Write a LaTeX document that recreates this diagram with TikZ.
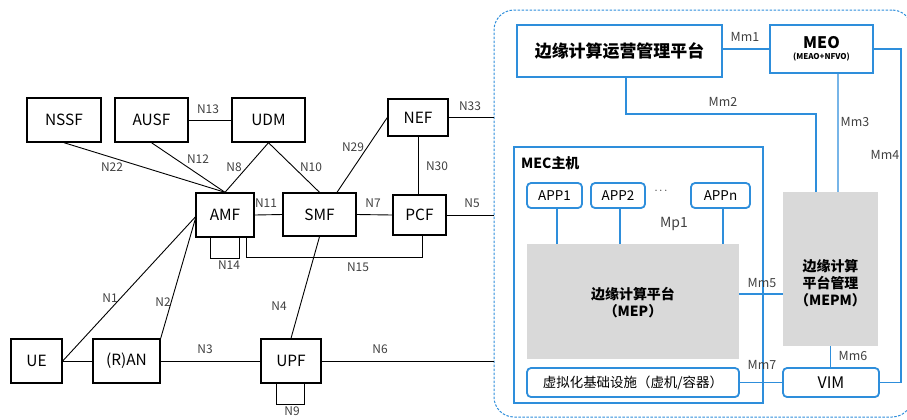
\documentclass[tikz,border=0pt]{standalone}
\usepackage{fontspec}
\setmainfont{Noto Sans CJK SC}
\usepackage{xcolor}
\usetikzlibrary{positioning}
\definecolor{mecblue}{RGB}{46,142,219}
\definecolor{mecgrey}{RGB}{217,217,217}

\begin{document}
\begin{tikzpicture}[
  x=1bp, y=-1bp,
  nf/.style={draw, line width=1.4bp, inner sep=0pt, font=\fontsize{15.5}{17}\selectfont},
  bbox/.style={draw=mecblue, line width=1.8bp, inner sep=0pt},
  rbox/.style={bbox, rounded corners=4bp, font=\fontsize{13.5}{16}\selectfont},
  gbox/.style={fill=mecgrey, inner sep=0pt},
  gtxt/.style={align=center, font=\bfseries\fontsize{14}{17}\selectfont},
  lbl/.style={font=\fontsize{12}{14}\selectfont, text=black!75, inner sep=1bp},
  mlbl/.style={lbl, font=\fontsize{12.5}{14}\selectfont},
  lnk/.style={line width=0.9bp},
  blnk/.style={draw=mecblue, line width=1.2bp}
]
\useasboundingbox (0,0) rectangle (907,419);

% MEC domain
\node[draw=mecblue, line width=1bp, dash pattern=on 2.5bp off 1.5bp,
      rounded corners=20bp, minimum width=418bp, minimum height=407bp,
      inner sep=0pt] (edge) at (703,213.5) {};

% 5G core
\node[nf, minimum width=74bp, minimum height=44bp] (NSSF) at (64,120) {NSSF};
\node[nf, minimum width=73bp, minimum height=44bp] (AUSF) at (151.5,120) {AUSF};
\node[nf, minimum width=73bp, minimum height=44bp] (UDM) at (268.5,120) {UDM};
\node[nf, minimum width=60bp, minimum height=37bp] (NEF) at (418,117.5) {NEF};
\node[nf, minimum width=58bp, minimum height=44bp] (AMF) at (225,215) {AMF};
\node[nf, minimum width=73bp, minimum height=43bp] (SMF) at (319.5,214.5) {SMF};
\node[nf, minimum width=53bp, minimum height=40bp] (PCF) at (419.5,215) {PCF};
\node[nf, minimum width=51bp, minimum height=44bp] (UE) at (36.5,361) {UE};
\node[nf, minimum width=67bp, minimum height=44bp] (RAN) at (126.5,361) {(R)AN};
\node[nf, minimum width=60bp, minimum height=44bp] (UPF) at (291,361) {UPF};

\draw[lnk] (NSSF.south) -- (AMF.north);
\draw[lnk] (AUSF.south) -- (AMF.north);
\draw[lnk] (UDM.south) -- (AMF.north);
\draw[lnk] (UDM.south) -- (SMF.north);
\draw[lnk] (AUSF.east) -- (UDM.west);
\draw[lnk] ([xshift=17.5bp]SMF.north) -- (NEF.west);
\draw[lnk] (NEF.south) -- (NEF.south |- PCF.north);
\draw[lnk] (AMF.east) -- (SMF.west);
\draw[lnk] (SMF.east) -- (PCF.west);
\draw[lnk] (PCF.east) -- (PCF.east -| edge.west);
\draw[lnk] (NEF.east) -- (NEF.east -| edge.west);
\draw[lnk] (UPF.east) -- (UPF.east -| edge.west);
\draw[lnk] ([xshift=-15bp]AMF.south) -- ++(0,21) -| ([xshift=14bp]AMF.south);
\draw[lnk] ([xshift=21bp]AMF.south) -- ++(0,20) -| ([xshift=2.5bp]PCF.south);
\draw[lnk] ([xshift=-15bp]UPF.south) -- ++(0,21) -| ([xshift=13bp]UPF.south);
\draw[lnk] (UE.east) -- (RAN.west);
\draw[lnk] (RAN.east) -- (UPF.west);
\draw[lnk] (UE.east) -- ([yshift=-2bp]AMF.west);
\draw[lnk] (RAN.north east) -- ([yshift=-4bp]AMF.west);
\draw[lnk] (SMF.south) -- (UPF.north);

\node[lbl] (lN22) at (112,167) {N22};
\node[lbl] (lN12) at (198,159) {N12};
\node[lbl] (lN8) at (234,167) {N8};
\node[lbl] (lN10) at (311,167) {N10};
\node[lbl] (lN13) at (208,109) {N13};
\node[lbl] (lN29) at (353,147) {N29};
\node[lbl] (lN30) at (437,166) {N30};
\node[lbl] (lN11) at (266,203) {N11};
\node[lbl] (lN7) at (373,203) {N7};
\node[lbl] (lN14) at (229,265) {N14};
\node[lbl] (lN15) at (358,267) {N15};
\node[lbl] (lN1) at (110,298) {N1};
\node[lbl] (lN2) at (163,302) {N2};
\node[lbl] (lN4) at (279,306) {N4};
\node[lbl] (lN3) at (205,349) {N3};
\node[lbl] (lN6) at (380,349) {N6};
\node[lbl] (lN9) at (292,411) {N9};
\node[lbl] (lN33) at (470,106) {N33};
\node[lbl] (lN5) at (472,203) {N5};

% MEC side
\node[bbox, minimum width=205bp, minimum height=52bp,
      font=\bfseries\fontsize{17}{20}\selectfont] (ops) at (619.5,51) {边缘计算运营管理平台};
\node[bbox, minimum width=103bp, minimum height=48bp, align=center] (MEO) at (821.5,49)
  {{\bfseries\fontsize{16}{16}\selectfont MEO}\\[-1bp]{\bfseries\fontsize{8}{9}\selectfont (MEAO+NFVO)}};
\node[bbox, minimum width=249bp, minimum height=256bp] (host) at (638.5,275) {};
\node[anchor=west, inner sep=0pt, font=\bfseries\fontsize{14}{16}\selectfont] (hostlbl) at (521,163) {MEC主机};
\node[rbox, minimum width=55bp, minimum height=25bp] (APP1) at (554.5,195.5) {APP1};
\node[rbox, minimum width=54bp, minimum height=25bp] (APP2) at (618,195.5) {APP2};
\node[rbox, minimum width=59bp, minimum height=25bp] (APPn) at (720.5,195.5) {APPn};
\node[font=\fontsize{11}{14}\selectfont] (dots) at (661,191) {$\cdots$};
\node[gbox, minimum width=212bp, minimum height=115bp] (MEP) at (633,301.5) {};
\node[gtxt] (meptxt) at (633,303) {边缘计算平台\\（MEP）};
\node[gbox, minimum width=95bp, minimum height=154bp] (MEPM) at (830.5,269) {};
\node[gtxt] (mepmtxt) at (830.5,283) {边缘计算\\平台管理\\（MEPM）};
\node[rbox, minimum width=212bp, minimum height=29bp] (virt) at (633,382.5) {虚拟化基础设施（虚机/容器）};
\node[rbox, minimum width=96bp, minimum height=29bp, font=\fontsize{16}{18}\selectfont] (VIM) at (831,382.5) {VIM};

\draw[blnk] (MEO.west -| ops.east) -- (MEO.west);
\draw[blnk] ([xshift=6.5bp]ops.south) -- ++(0,36) -| ([xshift=-14.5bp]MEPM.north);
\draw[blnk] ([xshift=16.5bp]MEO.south) -- ([xshift=7.5bp]MEPM.north);
\draw[blnk] (MEO.east) -- ++(27,0) |- (VIM.east);
\draw[blnk] ([xshift=2.5bp]APP1.south) -- ([xshift=2.5bp]APP1.south |- MEP.north);
\draw[blnk] ([xshift=2bp]APP2.south) -- ([xshift=2bp]APP2.south |- MEP.north);
\draw[blnk] ([xshift=2.5bp]APPn.south) -- ([xshift=2.5bp]APPn.south |- MEP.north);
\coordinate (mm5) at ([yshift=7.5bp]MEP.east);
\draw[blnk] (mm5) -- (mm5 -| MEPM.west);
\draw[blnk] (virt.east) -- (VIM.west);
\draw[blnk] (MEPM.south) -- (MEPM.south |- VIM.north);

\node[mlbl] (lMm1) at (745,37) {Mm1};
\node[mlbl] (lMm2) at (723,102) {Mm2};
\node[mlbl] (lMm3) at (855,122) {Mm3};
\node[mlbl] (lMm4) at (885,155) {Mm4};
\node[lbl, font=\fontsize{14}{16}\selectfont] (lMp1) at (674,224) {Mp1};
\node[mlbl] (lMm5) at (762,283) {Mm5};
\node[mlbl] (lMm7) at (762,365) {Mm7};
\node[mlbl] (lMm6) at (853,356) {Mm6};
\end{tikzpicture}
\end{document}
